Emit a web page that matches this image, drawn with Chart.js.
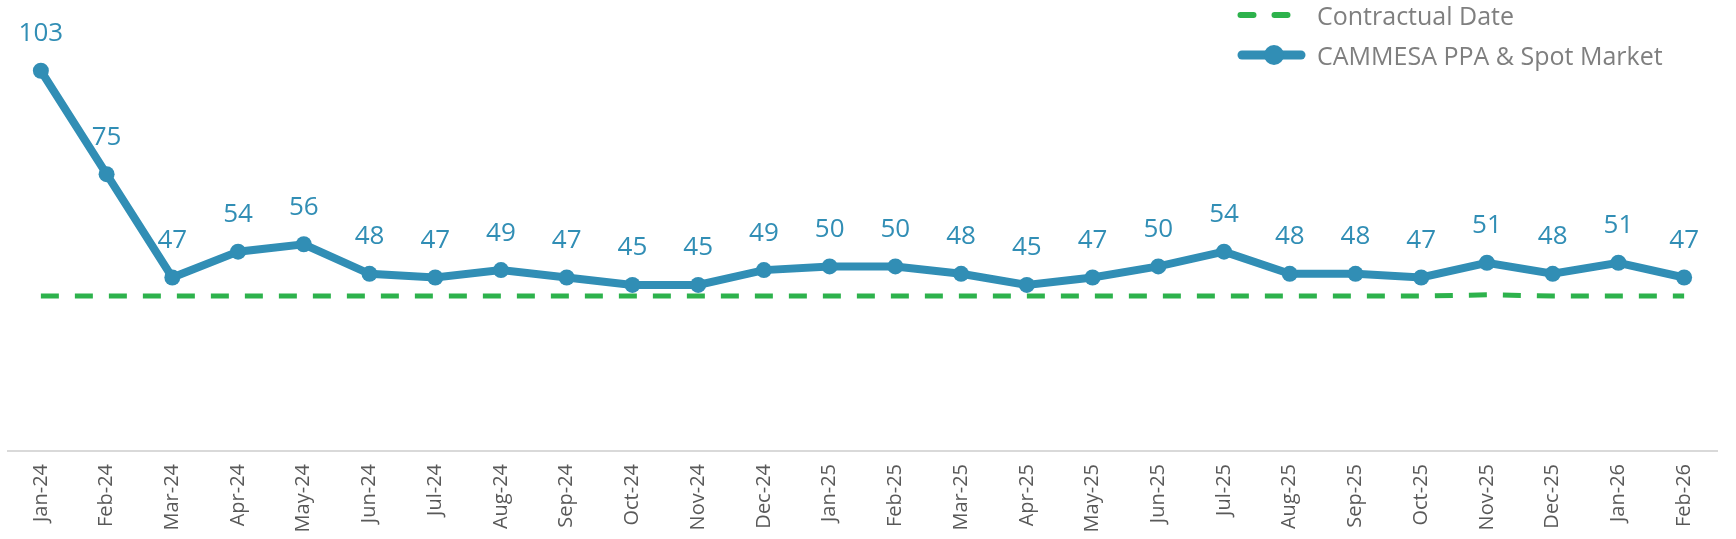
<!DOCTYPE html>
<html><head><meta charset="utf-8">
<script src="https://cdn.jsdelivr.net/npm/chart.js@4.4.1/dist/chart.umd.min.js"></script>
<style>
html,body{margin:0;padding:0;background:#fff;}
#wrap{position:relative;width:1736px;height:539px;overflow:hidden;background:#fff;}
#c{position:absolute;left:0;top:0;}
.lg{position:absolute;font-family:'Open Sans',sans-serif;font-size:25px;color:#7f7f7f;white-space:nowrap;line-height:30px;height:30px;}
.lgicon{position:absolute;}
</style></head><body>
<div id="wrap"><canvas id="c" width="1736" height="539"></canvas><div id="legend"></div></div>
<script>
const categories = ['Jan-24','Feb-24','Mar-24','Apr-24','May-24','Jun-24','Jul-24','Aug-24','Sep-24','Oct-24','Nov-24','Dec-24',
  'Jan-25','Feb-25','Mar-25','Apr-25','May-25','Jun-25','Jul-25','Aug-25','Sep-25','Oct-25','Nov-25','Dec-25','Jan-26','Feb-26'];
const spotValues = [103,75,47,54,56,48,47,49,47,45,45,49,50,50,48,45,47,50,54,48,48,47,51,48,51,47];
const contractValues = [42,42,42,42,42,42,42,42,42,42,42,42,42,42,42,42,42,42,42,42,42,42,42.3,42,42,42];
const seriesNames = ['Contractual Date','CAMMESA PPA & Spot Market'];

const BLUE = '#318eb5';
const GREEN = '#2db24c';

const labelPlugin = {
  id: 'pointLabels',
  afterDatasetsDraw(chart) {
    const ctx = chart.ctx;
    const meta = chart.getDatasetMeta(1);
    ctx.save();
    ctx.font = '26px "Open Sans"';
    ctx.fillStyle = BLUE;
    ctx.textAlign = 'center';
    ctx.textBaseline = 'middle';
    meta.data.forEach((pt, i) => {
      ctx.fillText(String(spotValues[i]), pt.x, pt.y - 37);
    });
    ctx.restore();
  }
};

const chart = new Chart(document.getElementById('c'), {
  type: 'line',
  data: {
    labels: categories,
    datasets: [
      {
        label: seriesNames[0],
        data: contractValues,
        borderColor: GREEN,
        backgroundColor: GREEN,
        borderWidth: 5,
        borderDash: [18, 16],
        borderCapStyle: 'butt',
        pointRadius: 0,
        tension: 0,
        order: 2
      },
      {
        label: seriesNames[1],
        data: spotValues,
        borderColor: BLUE,
        backgroundColor: BLUE,
        borderWidth: 8,
        pointRadius: 8,
        pointBorderWidth: 0,
        pointBackgroundColor: BLUE,
        tension: 0,
        order: 1
      }
    ]
  },
  options: {
    responsive: false,
    devicePixelRatio: 1,
    animation: false,
    layout: { padding: { left: 4, right: 19, top: 7, bottom: 0 } },
    plugins: { legend: { display: false }, tooltip: { enabled: false } },
    scales: {
      y: { display: false, min: 0, max: 120 },
      x: {
        offset: true,
        grid: { display: true, drawOnChartArea: false, drawTicks: false, color: 'rgba(0,0,0,0)' },
        border: { display: true, color: '#d9d9d9', width: 2 },
        ticks: {
          minRotation: 90, maxRotation: 90, autoSkip: false,
          padding: 13,
          color: '#595959',
          font: { family: '"Open Sans"', size: 20 }
        },
        afterFit(scale) { scale.height = 88; }
      }
    }
  },
  plugins: [labelPlugin]
});

// HTML legend
const legend = document.getElementById('legend');
const items = [
  { name: seriesNames[0], top: 0,
    icon: `<svg width="72" height="30"><line x1="3.5" y1="15" x2="56" y2="15" stroke="${GREEN}" stroke-width="6" stroke-linecap="round" stroke-dasharray="13,21"/></svg>` },
  { name: seriesNames[1], top: 40,
    icon: `<svg width="72" height="30"><line x1="5" y1="15" x2="64" y2="15" stroke="${BLUE}" stroke-width="9" stroke-linecap="round"/><circle cx="37" cy="15" r="10" fill="${BLUE}"/></svg>` }
];
items.forEach(it => {
  const ic = document.createElement('div');
  ic.className = 'lgicon';
  ic.style.left = '1237px';
  ic.style.top = it.top + 'px';
  ic.innerHTML = it.icon;
  legend.appendChild(ic);
  const t = document.createElement('div');
  t.className = 'lg';
  t.style.left = '1317px';
  t.style.top = it.top + 'px';
  t.textContent = it.name;
  legend.appendChild(t);
});
</script>
</body></html>
